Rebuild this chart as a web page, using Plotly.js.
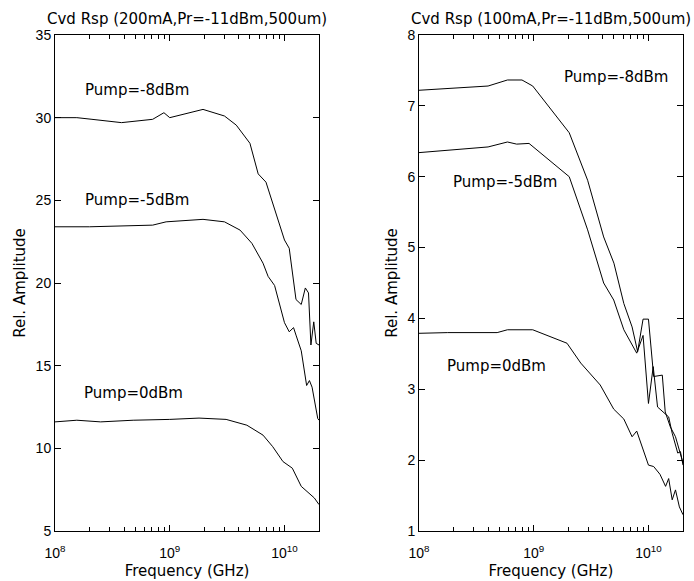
<!DOCTYPE html>
<html>
<head>
<meta charset="utf-8">
<script src="https://cdn.plot.ly/plotly-3.0.1.min.js"></script>
<style>html,body{margin:0;padding:0;background:#fff;}</style>
</head>
<body>
<div id="chart" style="width:694px;height:581px;"></div>
<script>
// Left panel (200 mA)
const freqA8 = [1e8, 1.55e8, 2.1e8, 3.8e8, 7.1e8, 8.9e8, 1.0e9, 1.95e9, 3.0e9, 3.8e9, 5.0e9, 5.9e9, 6.9e9, 8.1e9, 9.3e9, 1.0e10, 1.1e10, 1.26e10, 1.4e10, 1.52e10, 1.62e10, 1.7e10, 1.8e10, 1.89e10, 2.0e10];
const valA8  = [30.0, 30.0, 29.9, 29.7, 29.9, 30.3, 30.0, 30.5, 30.1, 29.55, 28.45, 26.6, 26.1, 24.6, 23.2, 22.6, 22.1, 19.0, 18.7, 19.7, 19.4, 16.25, 17.65, 16.35, 16.25];
const freqA5 = [1e8, 2.0e8, 7.1e8, 9.3e8, 1.95e9, 3.0e9, 4.1e9, 5.2e9, 6.5e9, 7.2e9, 8.2e9, 1.0e10, 1.1e10, 1.2e10, 1.26e10, 1.4e10, 1.56e10, 1.65e10, 1.74e10, 1.95e10, 2.0e10];
const valA5  = [23.4, 23.4, 23.5, 23.7, 23.85, 23.7, 23.2, 22.4, 21.2, 20.4, 19.85, 17.6, 17.05, 17.3, 16.85, 15.9, 13.8, 14.1, 13.7, 11.8, 11.7];
const freqA0 = [1e8, 1.55e8, 2.5e8, 4.8e8, 1.0e9, 1.8e9, 3.1e9, 4.7e9, 6.5e9, 7.9e9, 9.7e9, 1.17e10, 1.4e10, 1.58e10, 1.82e10, 2.0e10];
const valA0  = [11.6, 11.7, 11.6, 11.7, 11.75, 11.83, 11.75, 11.4, 10.8, 10.1, 9.2, 8.8, 7.7, 7.4, 7.0, 6.6];

// Right panel (100 mA)
const freqB8 = [1e8, 2.14e8, 4.0e8, 5.9e8, 7.9e8, 9.8e8, 2.04e9, 2.95e9, 4.07e9, 5.0e9, 5.75e9, 6.1e9, 7.2e9, 8.05e9, 8.97e9, 1.0e10, 1.11e10, 1.32e10, 1.4e10, 1.55e10, 1.72e10, 1.9e10, 2.0e10];
const valB8  = [7.22, 7.25, 7.28, 7.365, 7.365, 7.28, 6.62, 5.95, 5.15, 4.78, 4.40, 4.21, 3.88, 3.53, 3.99, 3.99, 3.18, 3.20, 2.68, 2.47, 2.33, 2.10, 1.96];
const freqB5 = [1e8, 4.0e8, 5.9e8, 7.1e8, 9.1e8, 2.04e9, 2.95e9, 4.07e9, 4.98e9, 6.1e9, 7.9e9, 8.97e9, 1.0e10, 1.1e10, 1.2e10, 1.5e10, 1.61e10, 1.8e10, 1.9e10, 2.0e10];
const valB5  = [6.34, 6.42, 6.49, 6.46, 6.47, 6.0, 5.25, 4.50, 4.26, 3.84, 3.51, 3.76, 2.80, 3.32, 2.75, 2.61, 2.38, 2.10, 2.12, 1.93];
const freqB0 = [1e8, 1.78e8, 4.8e8, 5.9e8, 9.8e8, 1.95e9, 2.57e9, 3.8e9, 4.98e9, 6.1e9, 7.2e9, 7.9e9, 1.0e10, 1.11e10, 1.26e10, 1.41e10, 1.5e10, 1.61e10, 1.72e10, 1.86e10, 2.0e10];
const valB0  = [3.79, 3.80, 3.80, 3.84, 3.84, 3.65, 3.37, 3.06, 2.72, 2.58, 2.33, 2.41, 1.93, 1.91, 1.80, 1.63, 1.74, 1.44, 1.58, 1.34, 1.23];

const titles = ["Cvd Rsp (200mA,Pr=-11dBm,500um)", "Cvd Rsp (100mA,Pr=-11dBm,500um)"];
const pumpLabels = ["Pump=-8dBm", "Pump=-5dBm", "Pump=0dBm"];
const majorTicks = [1e8, 1e9, 1e10];
const majorText = ["10<sup>8</sup>", "10<sup>9</sup>", "10<sup>10</sup>"];
const minorTicks = [];
[1e8, 1e9, 1e10].forEach(d => { for (let k = 2; k <= 9; k++) { if (d * k <= 2e10) minorTicks.push(d * k); } });

const lineStyle = {color: "#000", width: 1};
const traces = [
  {x: freqA8, y: valA8, xaxis: "x", yaxis: "y", name: pumpLabels[0]},
  {x: freqA5, y: valA5, xaxis: "x", yaxis: "y", name: pumpLabels[1]},
  {x: freqA0, y: valA0, xaxis: "x", yaxis: "y", name: pumpLabels[2]},
  {x: freqB8, y: valB8, xaxis: "x2", yaxis: "y2", name: pumpLabels[0]},
  {x: freqB5, y: valB5, xaxis: "x2", yaxis: "y2", name: pumpLabels[1]},
  {x: freqB0, y: valB0, xaxis: "x2", yaxis: "y2", name: pumpLabels[2]}
].map(t => Object.assign(t, {type: "scatter", mode: "lines", line: lineStyle, showlegend: false, hoverinfo: "skip"}));

const textFont = {family: "DejaVu Sans, sans-serif", size: 15, color: "#000"};
const tickFont = {family: "Liberation Sans, Arial, sans-serif", size: 14, color: "#000"};

function xAxis(domain, anchor) {
  return {
    type: "log", range: [8, Math.log10(2e10)], domain: domain, anchor: anchor,
    tickmode: "array", tickvals: majorTicks, ticktext: majorText,
    ticks: "inside", ticklen: 6, tickwidth: 1, tickcolor: "#000",
    minor: {tickmode: "array", tickvals: minorTicks, ticks: "inside", ticklen: 4, tickwidth: 1, tickcolor: "#000", showgrid: false},
    showline: true, linecolor: "#000", linewidth: 1, mirror: "ticks",
    showgrid: false, zeroline: false, tickfont: tickFont, ticklabelstandoff: 9,
    title: {text: "Frequency (GHz)", font: textFont, standoff: 5}
  };
}
function yAxis(range, dtick, domainAnchor) {
  return {
    range: range, dtick: dtick, tick0: 0, anchor: domainAnchor,
    ticks: "inside", ticklen: 6, tickwidth: 1, tickcolor: "#000",
    showline: true, linecolor: "#000", linewidth: 1, mirror: "ticks",
    showgrid: false, zeroline: false, tickfont: tickFont,
    title: {text: "Rel. Amplitude", font: textFont, standoff: 6}
  };
}

const annotations = [
  {text: titles[0], xref: "paper", yref: "paper", x: 0.2102, y: 1.032, showarrow: false, font: textFont, xanchor: "center", yanchor: "middle"},
  {text: titles[1], xref: "paper", yref: "paper", x: 0.7898, y: 1.032, showarrow: false, font: textFont, xanchor: "center", yanchor: "middle"},
  {text: pumpLabels[0], xref: "x", yref: "y", x: 8.713, y: 31.7, showarrow: false, font: textFont},
  {text: pumpLabels[1], xref: "x", yref: "y", x: 8.713, y: 25.0, showarrow: false, font: textFont},
  {text: pumpLabels[2], xref: "x", yref: "y", x: 8.687, y: 13.35, showarrow: false, font: textFont},
  {text: pumpLabels[0], xref: "x2", yref: "y2", x: 9.72, y: 7.41, showarrow: false, font: textFont},
  {text: pumpLabels[1], xref: "x2", yref: "y2", x: 8.752, y: 5.93, showarrow: false, font: textFont},
  {text: pumpLabels[2], xref: "x2", yref: "y2", x: 8.674, y: 3.33, showarrow: false, font: textFont}
];

const layout = {
  width: 694, height: 581,
  margin: {l: 55, r: 11, t: 35, b: 50},
  paper_bgcolor: "#fff", plot_bgcolor: "#fff",
  showlegend: false,
  xaxis: xAxis([0, 0.4204], "y"),
  yaxis: yAxis([5, 35], 5, "x"),
  xaxis2: xAxis([0.5796, 1], "y2"),
  yaxis2: yAxis([1, 8], 1, "x2"),
  annotations: annotations
};

Plotly.newPlot("chart", traces, layout, {staticPlot: true, displayModeBar: false});
</script>
</body>
</html>
